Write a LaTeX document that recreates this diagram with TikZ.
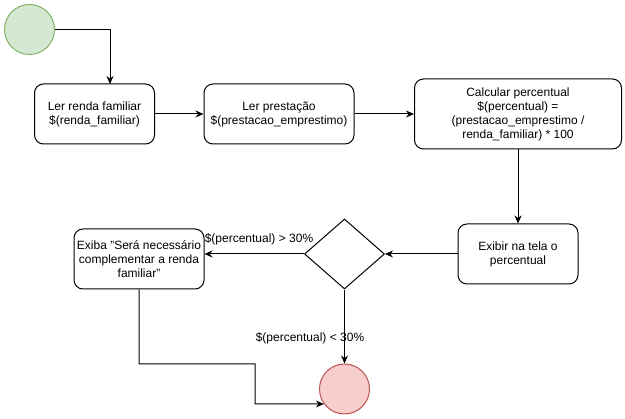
\documentclass[tikz,border=0pt]{standalone}
\usepackage{fontspec}
\setmainfont{Liberation Sans}
\usepackage{xcolor}
\definecolor{startfill}{HTML}{D5E8D4}
\definecolor{startline}{HTML}{82B366}
\definecolor{endfill}{HTML}{F8CECC}
\definecolor{endline}{HTML}{B85450}
\usetikzlibrary{arrows.meta, shapes.geometric, positioning}

\begin{document}
\begin{tikzpicture}[x=1pt, y=-1pt, line width=1pt, >={Stealth[length=8pt, width=7pt]},
  every node/.style={font=\fontsize{12}{14}\selectfont},
  box/.style={draw, rounded corners=9pt, align=center, inner sep=0pt},
  choice/.style={draw, diamond, aspect=1.14, minimum width=80pt, minimum height=70pt, inner sep=0pt},
  terminal/.style={draw, circle, minimum size=50pt, inner sep=0pt}]
                        \useasboundingbox (0,0) rectangle (625,419);
                        \node[terminal, fill=startfill, draw=startline] (start) at (29.5, 29.5) {};
                        \node[box, minimum width=120pt, minimum height=60pt] (ler1) at (94.5, 114) {Ler renda familiar\\\$(renda\_familiar)};
                        \node[box, minimum width=150pt, minimum height=60pt] (ler2) at (279, 114) {Ler prestação\\\$(prestacao\_emprestimo)};
                        \node[box, minimum width=207pt, minimum height=70pt] (calc) at (518, 114) {Calcular percentual\\\$(percentual) =\\(prestacao\_emprestimo /\\renda\_familiar) * 100};
                        \node[box, minimum width=120pt, minimum height=60pt] (exibir) at (518, 254) {Exibir na tela o\\percentual};
                        \node[choice] (dec) at (344.5, 254) {};
                        \node[box, minimum width=130pt, minimum height=60pt] (aviso) at (139, 259) {Exiba "Será necessário\\complementar a renda\\familiar"};
                        \node[terminal, fill=endfill, draw=endline] (fim) at (344.5, 389) {};
                        \node (maior) at (259, 239) {\$(percentual) > 30\%};
                        \node (menor) at (310, 338) {\$(percentual) < 30\%};
                        \coordinate (k1) at (110, 84);
                        \coordinate (k2) at (255, 364);
                        \coordinate (k3) at (255, 404);
                        \draw[->] (start) -| (k1);
                        \draw[->] (ler1) -- (ler2);
                        \draw[->] (ler2) -- (calc);
                        \draw[->] (calc) -- (exibir);
                        \draw[->] (exibir) -- (dec);
                        \draw[->] (dec) -- (dec -| aviso.east);
                        \draw[->] (dec) -- (fim);
                        \draw[->] (aviso) |- (k2) -- (k3) -- (fim.216.87);
                    \end{tikzpicture}
\end{document}
